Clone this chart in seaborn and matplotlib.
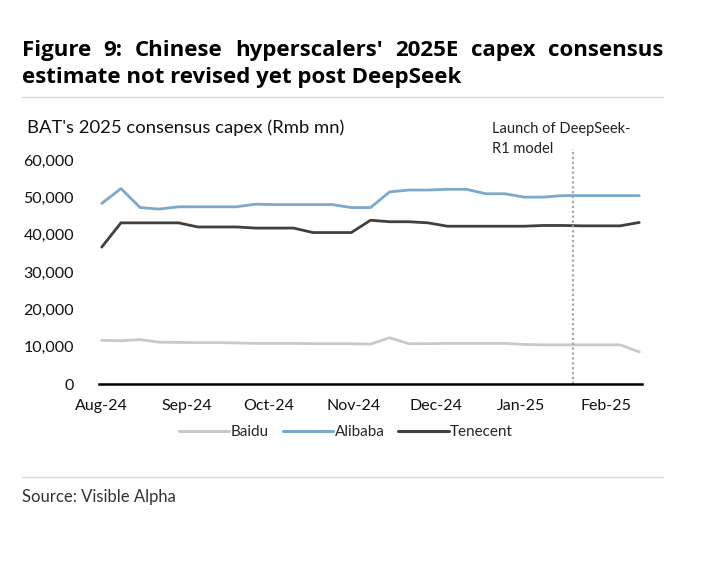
import pandas as pd
import seaborn as sns
import matplotlib.pyplot as plt
import matplotlib.dates as mdates
from matplotlib.lines import Line2D

# weekly consensus capex, Rmb mn
dates = pd.date_range("2024-08-01", periods=29, freq="7D")
baidu = [11700, 11600, 11900, 11200, 11150, 11100, 11100, 11000, 10900, 10900,
         10900, 10800, 10800, 10800, 10700, 12400, 10800, 10800, 10900, 10900,
         10900, 10900, 10600, 10500, 10500, 10500, 10500, 10500, 8600]
alibaba = [48400, 52400, 47300, 46900, 47500, 47500, 47500, 47500, 48200, 48100,
           48100, 48100, 48100, 47300, 47300, 51500, 52000, 52000, 52200, 52200,
           51000, 51000, 50100, 50100, 50500, 50500, 50500, 50500, 50500]
tencent = [36700, 43200, 43200, 43200, 43200, 42100, 42100, 42100, 41800, 41800,
           41800, 40600, 40600, 40600, 43900, 43500, 43500, 43200, 42300, 42300,
           42300, 42300, 42300, 42500, 42500, 42400, 42400, 42400, 43300]
names = ["Baidu", "Alibaba", "Tenecent"]
colors = {"Baidu": "#c9c9c9", "Alibaba": "#7ea8c8", "Tenecent": "#404040"}
launch = pd.Timestamp("2025-01-20")

df = pd.DataFrame({"date": dates, "Baidu": baidu, "Alibaba": alibaba, "Tenecent": tencent})
df = df.melt(id_vars="date", var_name="company", value_name="capex")

sns.set_style("white")
plt.rcParams["font.family"] = ["Lato", "DejaVu Sans"]

W, H = 709, 561
fig = plt.figure(figsize=(W / 100, H / 100), dpi=100)
ax = fig.add_axes([99 / W, 1 - 384 / H, (642 - 99) / W, (384 - 149) / H])

sns.lineplot(data=df, x="date", y="capex", hue="company", hue_order=names,
             palette=colors, linewidth=2, ax=ax, legend=False)

ax.axvline(launch, color="#a6a6a6", linestyle=(0, (1, 1.2)), linewidth=1.6)

ax.set_ylim(0, 63000)
ax.set_yticks(range(0, 60001, 10000))
ax.set_yticklabels([f"{v:,}" for v in range(0, 60001, 10000)])
ax.set_xlim(pd.Timestamp("2024-07-31"), pd.Timestamp("2025-02-14"))
ax.xaxis.set_major_locator(mdates.MonthLocator())
ax.xaxis.set_major_formatter(mdates.DateFormatter("%b-%y"))
ax.tick_params(axis="both", length=0, labelsize=11.5, colors="#111111")
ax.tick_params(axis="y", pad=18)
ax.tick_params(axis="x", pad=11)
ax.set_xlabel("")
ax.set_ylabel("")
for s in ["top", "right", "left"]:
    ax.spines[s].set_visible(False)
ax.spines["bottom"].set_color("black")
ax.spines["bottom"].set_linewidth(1.8)

handles = [Line2D([], [], color=colors[n], linewidth=2.2) for n in names]
fig.legend(handles, names, loc="center", bbox_to_anchor=(346 / W, 1 - 432 / H),
           ncol=3, frameon=False, fontsize=11, handlelength=3.3,
           handletextpad=0.1, columnspacing=0.9)

# chart texts
fig.text(27 / W, 1 - 128 / H, "BAT's 2025 consensus capex (Rmb mn)", fontsize=13.3,
         va="center", color="#111111")
fig.text(492 / W, 1 - 139 / H, "Launch of DeepSeek-\nR1 model", fontsize=10.5,
         va="center", linespacing=1.6, color="#222222")

# title, first line justified
line1 = "Figure 9: Chinese hyperscalers' 2025E capex consensus".split()
tkw = dict(fontsize=16, fontweight="bold", va="baseline", color="black",
           family=["Open Sans", "DejaVu Sans"])
words = [fig.text(0, 1 - 56 / H, w, **tkw) for w in line1]
fig.canvas.draw()
r = fig.canvas.get_renderer()
widths = [t.get_window_extent(r).width for t in words]
gap = (663 - 22 - sum(widths)) / (len(words) - 1)
x = 22
for t, w in zip(words, widths):
    t.set_x(x / W)
    x += w + gap
fig.text(22 / W, 1 - 83 / H, "estimate not revised yet post DeepSeek", **tkw)

# rules and source
for y in [97, 477]:
    fig.add_artist(Line2D([22 / W, 663 / W], [1 - y / H, 1 - y / H],
                          color="#d9d9d9", linewidth=1))
fig.text(22 / W, 1 - 497 / H, "Source: Visible Alpha", fontsize=12,
         va="center", color="#333333")

plt.savefig("out.png", dpi=100)
